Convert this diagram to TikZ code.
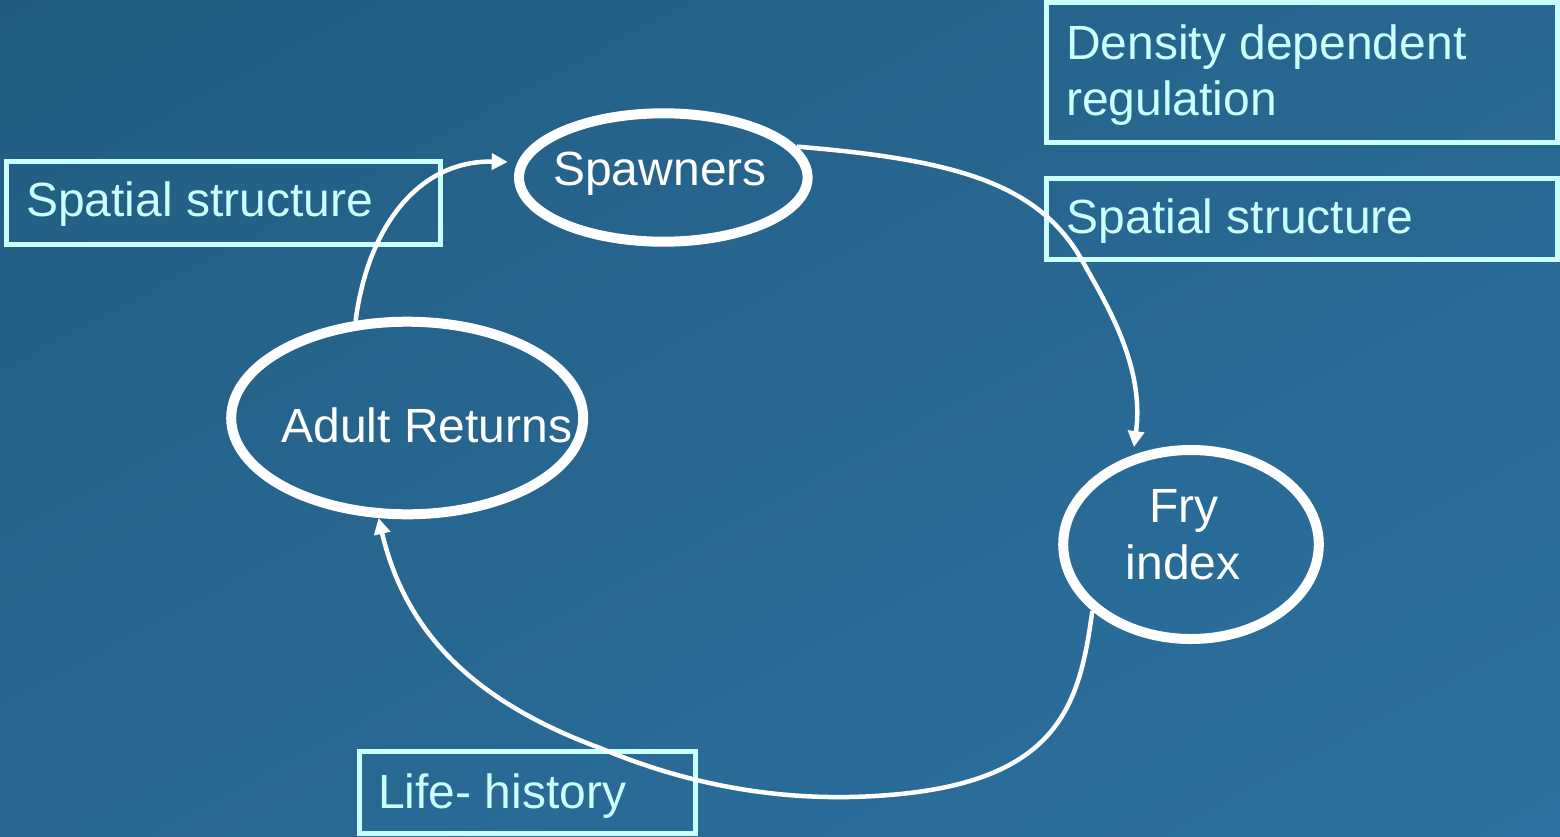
\documentclass[tikz,border=0pt]{standalone}
\usepackage{fontspec}
\setmainfont{Liberation Sans}
\usetikzlibrary{shapes.geometric,arrows.meta,shadings}
\definecolor{bgdark}{RGB}{34,93,129}
\definecolor{bgmid}{RGB}{39,103,145}
\definecolor{bglight}{RGB}{44,113,161}
\definecolor{boxcyan}{RGB}{204,255,255}
\begin{document}
\begin{tikzpicture}[x=1bp,y=-1bp,
  stage/.style={ellipse, draw=white, line width=10bp, inner sep=0pt},
  stagetext/.style={text=white, font=\fontsize{48bp}{56bp}\selectfont, inner sep=0pt, anchor=base},
  factor/.style={rectangle, draw=boxcyan, line width=5bp, inner sep=0pt},
  factortext/.style={text=boxcyan, font=\fontsize{48bp}{56bp}\selectfont, inner sep=0pt, anchor=base west},
  flow/.style={draw=white, line width=4.5bp, -{Triangle[length=16bp,width=16bp]}}
]
% background
\path[use as bounding box] (0,0) rectangle (1560,836);
\shade[upper left=bgdark, upper right=bgmid, lower left=bgmid, lower right=bglight]
  (0,0) rectangle (1560,836);

% factor boxes
\node[factor, minimum width=433.7bp, minimum height=82.7bp] (lbox) at (223.35,203.15) {};
\node[factor, minimum width=511bp, minimum height=140bp] (dbox) at (1302,72.5) {};
\node[factor, minimum width=511bp, minimum height=80.7bp] (rbox) at (1302,218.85) {};
\node[factor, minimum width=336.6bp, minimum height=81.7bp] (hbox) at (527.5,792.65) {};

\node[factortext] (ltxt) at (26,216.7) {Spatial structure};
\node[factortext] (dtxt1) at (1066,59.3) {Density dependent};
\node[factortext] (dtxt2) at (1066,115) {regulation};
\node[factortext] (rtxt) at (1066.5,233) {Spatial structure};
\node[factortext] (htxt) at (378,808.3) {Life- history};

% life-cycle stages
\node[stage, minimum width=288.6bp, minimum height=128.4bp] (sp) at (663.3,177.5) {};
\node[stage, minimum width=352bp, minimum height=192.6bp] (ar) at (407.2,418) {};
\node[stage, minimum width=255.6bp, minimum height=189bp] (fry) at (1191,544.5) {};

\node[stagetext] (sptxt) at (660,185) {Spawners};
\node[stagetext] (artxt) at (427,442.7) {Adult Returns};
\node[stagetext] (frytxt1) at (1183.7,522.7) {Fry};
\node[stagetext] (frytxt2) at (1183.3,579.3) {index};

% transitions
\draw[flow, shorten >=10bp] (ar.118) .. controls (368,225) and (420,160) .. (sp.174);
\draw[flow, shorten >=8bp] (sp.13) .. controls (960,160) and (1040,185) .. (1083,262)
  .. controls (1105,302) and (1145,365) .. (fry.123);
\draw[flow] (fry.214) .. controls (1080,700) and (1062,778) .. (900,794)
  .. controls (800,804) and (700,790) .. (600,748)
  .. controls (470,700) and (405,630) .. (ar.254);
\end{tikzpicture}
\end{document}
